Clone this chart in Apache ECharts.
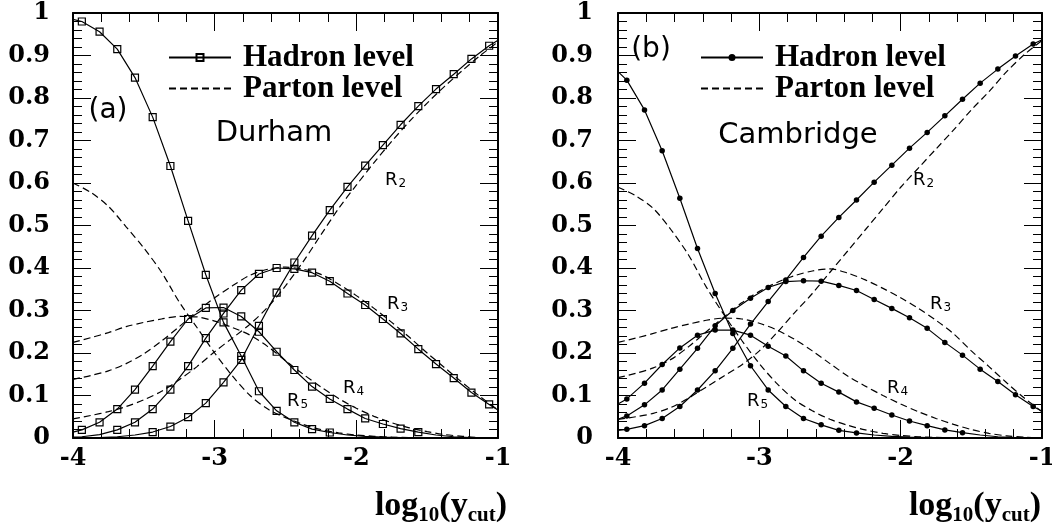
<!DOCTYPE html>
<html>
<head>
<meta charset="utf-8">
<script src="https://cdn.jsdelivr.net/npm/echarts@6/dist/echarts.min.js"></script>
<style>
  html, body { margin: 0; padding: 0; background: #fff; }
  #chart { width: 1052px; height: 529px; }
</style>
</head>
<body>
<div id="chart"></div>
<script>
// bin centres of the hadron-level points, log10(ycut)
const binX = [-3.9375, -3.8125, -3.6875, -3.5625, -3.4375, -3.3125, -3.1875, -3.0625,
  -2.9375, -2.8125, -2.6875, -2.5625, -2.4375, -2.3125, -2.1875, -2.0625,
  -1.9375, -1.8125, -1.6875, -1.5625, -1.4375, -1.3125, -1.1875, -1.0625]
// x grid of the parton-level curves
const partonX = [-4, -3.875, -3.75, -3.625, -3.5, -3.375, -3.25, -3.125, -3, -2.875, -2.75, -2.625,
  -2.5, -2.375, -2.25, -2.125, -2, -1.875, -1.75, -1.625, -1.5, -1.375, -1.25, -1.125, -1]

// (a) Durham, hadron level
const durR2 = [0.0005, 0.001, 0.003, 0.007, 0.014, 0.027, 0.049, 0.082, 0.131, 0.184, 0.264, 0.342,
  0.413, 0.476, 0.536, 0.591, 0.641, 0.689, 0.737, 0.781, 0.821, 0.856, 0.892, 0.923]
const durR3 = [0.003, 0.008, 0.019, 0.037, 0.068, 0.114, 0.169, 0.235, 0.293, 0.348, 0.386, 0.400,
  0.398, 0.389, 0.369, 0.340, 0.313, 0.280, 0.246, 0.209, 0.174, 0.141, 0.107, 0.079]
const durR4 = [0.019, 0.037, 0.068, 0.114, 0.169, 0.227, 0.280, 0.306, 0.307, 0.286, 0.250, 0.203,
  0.160, 0.121, 0.092, 0.068, 0.046, 0.033, 0.022, 0.014, 0.007, 0.003, 0.001, 0]
const durR5 = [0.980, 0.956, 0.915, 0.848, 0.755, 0.640, 0.511, 0.384, 0.272, 0.193, 0.110, 0.064,
  0.037, 0.021, 0.013, 0.007, 0.004, 0.002, 0.001, 0, 0, 0, 0, 0]
// values at the frame edges x=-4 and x=-1
const durEdgeR2 = [0, 0.936]
const durEdgeR3 = [0.002, 0.066]
const durEdgeR4 = [0.014, 0]
const durEdgeR5 = [0.985, 0]

// (a) Durham, parton level
const durP2 = [0.045, 0.053, 0.062, 0.074, 0.090, 0.110, 0.137, 0.168, 0.203, 0.235, 0.268, 0.308,
  0.358, 0.415, 0.478, 0.540, 0.595, 0.648, 0.698, 0.745, 0.788, 0.828, 0.865, 0.900, 0.932]
const durP3 = [0.138, 0.147, 0.158, 0.175, 0.198, 0.228, 0.262, 0.298, 0.330, 0.358, 0.383, 0.397,
  0.402, 0.397, 0.385, 0.362, 0.335, 0.305, 0.272, 0.237, 0.200, 0.165, 0.130, 0.097, 0.066]
const durP4 = [0.225, 0.236, 0.248, 0.262, 0.272, 0.280, 0.286, 0.285, 0.275, 0.260, 0.242, 0.215,
  0.182, 0.150, 0.120, 0.093, 0.070, 0.051, 0.036, 0.024, 0.015, 0.008, 0.004, 0.001, 0]
const durP5 = [0.600, 0.578, 0.545, 0.497, 0.447, 0.390, 0.320, 0.260, 0.200, 0.146, 0.100, 0.068,
  0.048, 0.032, 0.020, 0.012, 0.007, 0.004, 0.002, 0.001, 0, 0, 0, 0, 0]

// (b) Cambridge, hadron level
const camR2 = [0.0205, 0.029, 0.046, 0.074, 0.113, 0.158, 0.211, 0.268, 0.321, 0.372, 0.425, 0.475,
  0.519, 0.560, 0.602, 0.642, 0.682, 0.719, 0.758, 0.797, 0.835, 0.868, 0.899, 0.927]
const camR3 = [0.052, 0.078, 0.113, 0.162, 0.211, 0.264, 0.300, 0.329, 0.354, 0.368, 0.370, 0.369,
  0.359, 0.347, 0.326, 0.305, 0.283, 0.258, 0.225, 0.195, 0.162, 0.133, 0.102, 0.074]
const camR4 = [0.092, 0.129, 0.173, 0.212, 0.242, 0.254, 0.254, 0.242, 0.216, 0.193, 0.158, 0.129,
  0.108, 0.085, 0.070, 0.054, 0.040, 0.029, 0.019, 0.0125, 0.007, 0.003, 0.001, 0]
const camR5 = [0.842, 0.772, 0.676, 0.564, 0.446, 0.340, 0.246, 0.170, 0.113, 0.074, 0.046, 0.031,
  0.018, 0.012, 0.007, 0.004, 0.002, 0.001, 0, 0, 0, 0, 0, 0]
const camEdgeR2 = [0.018, 0.937]
const camEdgeR3 = [0.044, 0.063]
const camEdgeR4 = [0.080, 0]
const camEdgeR5 = [0.862, 0]

// (b) Cambridge, parton level
const camP2 = [0.044, 0.050, 0.058, 0.072, 0.094, 0.120, 0.146, 0.172, 0.205, 0.248, 0.295, 0.340,
  0.390, 0.440, 0.490, 0.540, 0.590, 0.635, 0.680, 0.725, 0.772, 0.815, 0.862, 0.902, 0.935]
const camP3 = [0.142, 0.152, 0.165, 0.185, 0.215, 0.250, 0.285, 0.318, 0.345, 0.366, 0.382, 0.393,
  0.398, 0.388, 0.372, 0.352, 0.330, 0.305, 0.277, 0.245, 0.205, 0.168, 0.130, 0.094, 0.062]
const camP4 = [0.225, 0.235, 0.246, 0.258, 0.268, 0.277, 0.282, 0.280, 0.270, 0.254, 0.232, 0.205,
  0.175, 0.146, 0.122, 0.100, 0.080, 0.062, 0.046, 0.032, 0.020, 0.011, 0.005, 0.002, 0]
const camP5 = [0.590, 0.570, 0.540, 0.490, 0.430, 0.355, 0.290, 0.230, 0.175, 0.128, 0.090, 0.064,
  0.044, 0.030, 0.019, 0.011, 0.006, 0.003, 0.0015, 0.0005, 0, 0, 0, 0, 0]

const serif = 'Liberation Serif'
const sans = 'DejaVu Sans'
const tickFont = { fontFamily: 'DejaVu Serif', fontWeight: 'bold', fontSize: 24, color: '#000' }
const frame = { show: true, onZero: false, lineStyle: { color: '#000', width: 2 } }
const ticks = { show: true, inside: true, length: 18, lineStyle: { color: '#000', width: 1 } }
const minor = { show: true, splitNumber: 5, length: 9, lineStyle: { color: '#000', width: 1 } }

function xAxes(grid) {
  const base = {
    type: 'value', gridIndex: grid, min: -4, max: -1, interval: 1,
    axisLine: frame, axisTick: ticks, minorTick: minor, splitLine: { show: false }
  }
  return [
    { ...base, position: 'bottom', axisLabel: { ...tickFont, margin: 9 } },
    { ...base, position: 'top', axisLabel: { show: false } }
  ]
}

function yAxes(grid, margin) {
  const base = {
    type: 'value', gridIndex: grid, min: 0, max: 1, interval: 0.1,
    axisLine: frame, axisTick: ticks, minorTick: minor, splitLine: { show: false }
  }
  return [
    { ...base, position: 'left', axisLabel: { ...tickFont, margin: margin } },
    { ...base, position: 'right', axisLabel: { show: false } }
  ]
}

function hadronData(vals, edge) {
  const pts = [{ value: [-4, edge[0]], symbol: 'none' }]
  vals.forEach((v, i) => {
    // points too close to zero carry no marker in the original
    pts.push(v >= 0.01 ? [binX[i], v] : { value: [binX[i], v], symbol: 'none' })
  })
  pts.push({ value: [-1, edge[1]], symbol: 'none' })
  return pts
}

function hadron(name, vals, edge, axis, marker) {
  return {
    name: name, type: 'line', xAxisIndex: axis, yAxisIndex: axis,
    data: hadronData(vals, edge),
    showSymbol: true, showAllSymbol: true,
    symbol: marker.symbol, symbolSize: marker.size,
    itemStyle: marker.style,
    lineStyle: { color: '#000', width: 1.2 },
    emphasis: { disabled: true }, silent: true, z: 3
  }
}

function parton(name, vals, axis) {
  return {
    name: name, type: 'line', xAxisIndex: axis, yAxisIndex: axis,
    data: partonX.map((x, i) => [x, vals[i]]),
    symbol: 'none', smooth: 0.3,
    itemStyle: { color: '#000' },
    lineStyle: { color: '#000', width: 1.2, type: [7, 4] },
    emphasis: { disabled: true }, silent: true, z: 2
  }
}

const square = { symbol: 'rect', size: 7, style: { color: 'rgba(255,255,255,0)', borderColor: '#000', borderWidth: 1.2 } }
const dot = { symbol: 'circle', size: 5.5, style: { color: '#000', borderWidth: 0 } }

const series = [
  hadron('Hadron level', durR2, durEdgeR2, 0, square),
  hadron('Hadron level', durR3, durEdgeR3, 0, square),
  hadron('Hadron level', durR4, durEdgeR4, 0, square),
  hadron('Hadron level', durR5, durEdgeR5, 0, square),
  parton('Parton level', durP2, 0),
  parton('Parton level', durP3, 0),
  parton('Parton level', durP4, 0),
  parton('Parton level', durP5, 0),
  hadron('Hadron level (b)', camR2, camEdgeR2, 2, dot),
  hadron('Hadron level (b)', camR3, camEdgeR3, 2, dot),
  hadron('Hadron level (b)', camR4, camEdgeR4, 2, dot),
  hadron('Hadron level (b)', camR5, camEdgeR5, 2, dot),
  parton('Parton level (b)', camP2, 2),
  parton('Parton level (b)', camP3, 2),
  parton('Parton level (b)', camP4, 2),
  parton('Parton level (b)', camP5, 2)
]

function legend(left, names) {
  return {
    left: left, top: 42, orient: 'vertical', padding: 0,
    itemWidth: 62, itemHeight: 8.75, itemGap: 0,
    selectedMode: false,
    data: [
      { name: names[0] },
      { name: names[1], itemStyle: { color: 'rgba(0,0,0,0)', borderWidth: 0 } }
    ],
    formatter: name => name.replace(' (b)', ''),
    textStyle: { fontFamily: serif, fontWeight: 'bold', fontSize: 31, lineHeight: 31, color: '#000', padding: [0, 0, 0, 7] }
  }
}

function note(text, x, y, size) {
  return {
    type: 'text', x: x, y: y, silent: true,
    style: { text: text, font: size + 'px "' + sans + '"', fill: '#000', align: 'center', verticalAlign: 'middle' }
  }
}

function rLabel(n, x, y) {
  return {
    type: 'text', x: x, y: y, silent: true,
    style: {
      text: '{r|R}{s|' + n + '}', verticalAlign: 'middle',
      rich: {
        r: { fontFamily: sans, fontSize: 18, lineHeight: 18, verticalAlign: 'top', fill: '#000' },
        s: { fontFamily: sans, fontSize: 12, lineHeight: 12, verticalAlign: 'top', padding: [7, 0, 0, 1], fill: '#000' }
      }
    }
  }
}

function axisTitle(x) {
  return {
    type: 'text', x: x, y: 489, silent: true,
    style: {
      text: '{m|log}{s|10}{m|(y}{s|cut}{m|)}', align: 'right', verticalAlign: 'top',
      rich: {
        m: { fontFamily: serif, fontWeight: 'bold', fontSize: 34, lineHeight: 34, verticalAlign: 'top', fill: '#000' },
        s: { fontFamily: serif, fontWeight: 'bold', fontSize: 21, lineHeight: 21, verticalAlign: 'top', padding: [16, 0, 0, 0], fill: '#000' }
      }
    }
  }
}

const chart = echarts.init(document.getElementById('chart'), null, { renderer: 'canvas' })
chart.setOption({
  animation: false,
  backgroundColor: '#fff',
  grid: [
    { left: 73, top: 13, width: 425, height: 425, outerBoundsMode: 'none', containLabel: false },
    { left: 618, top: 13, width: 424, height: 425, outerBoundsMode: 'none', containLabel: false }
  ],
  xAxis: [...xAxes(0), ...xAxes(1)],
  yAxis: [...yAxes(0, 23), ...yAxes(1, 25)],
  legend: [
    legend(168, ['Hadron level', 'Parton level']),
    legend(700, ['Hadron level (b)', 'Parton level (b)'])
  ],
  graphic: [
    note('(a)', 108, 111, 28),
    note('Durham', 274, 133, 29),
    note('(b)', 651, 50, 28),
    note('Cambridge', 798, 135, 29),
    rLabel(2, 385, 180),
    rLabel(3, 387, 304),
    rLabel(4, 343, 388),
    rLabel(5, 287, 401),
    rLabel(2, 913, 180),
    rLabel(3, 930, 304),
    rLabel(4, 887, 388),
    rLabel(5, 747, 401),
    axisTitle(507),
    axisTitle(1041)
  ],
  series: series
})
</script>
</body>
</html>
